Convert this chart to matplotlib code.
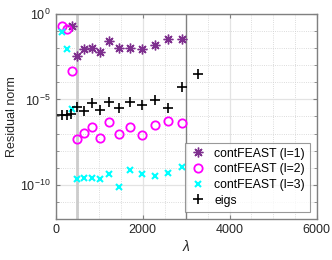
import matplotlib
matplotlib.use("Agg")
import matplotlib.pyplot as plt
from matplotlib.ticker import LogLocator, MultipleLocator, NullFormatter

plt.rcParams['font.family'] = ['Liberation Sans', 'DejaVu Sans']
plt.rcParams['mathtext.fontset'] = 'custom'
plt.rcParams['mathtext.rm'] = 'Liberation Sans'
plt.rcParams['mathtext.it'] = 'Liberation Sans:italic'

lam_l1 = [372, 497, 658, 827, 1018, 1225, 1460, 1715, 1988, 2270, 2590, 2905]
res_l1 = [2.1e-1, 3.6e-3, 8.9e-3, 1.07e-2, 5.8e-3, 2.75e-2, 1.02e-2, 1.02e-2,
          9.3e-3, 1.55e-2, 3.5e-2, 3.5e-2]

lam_l2 = [140, 253, 372, 497, 658, 827, 1018, 1225, 1460, 1715, 1988, 2270, 2590, 2905]
res_l2 = [2.1e-1, 1.26e-1, 4.7e-4, 4.9e-8, 1.15e-7, 2.3e-7, 5.6e-8, 5.0e-7,
          9.1e-8, 2.3e-7, 8.7e-8, 3.1e-7, 5.8e-7, 4.4e-7]

lam_l3 = [153, 253, 372, 497, 658, 827, 1018, 1225, 1460, 1715, 1988, 2270, 2590, 2905]
res_l3 = [8.5e-2, 8.5e-3, 2.6e-6, 2.1e-10, 2.6e-10, 2.6e-10, 2.2e-10, 4.4e-10,
          7.9e-11, 6.9e-10, 4.4e-10, 3.4e-10, 5.2e-10, 1.1e-9]

lam_eigs = [145, 253, 360, 497, 658, 827, 1018, 1225, 1460, 1715, 1988, 2270, 2590, 2905, 3280]
res_eigs = [1.23e-6, 1.23e-6, 1.35e-6, 3.8e-6, 2.1e-6, 6.0e-6, 2.45e-6, 6.9e-6,
            3.1e-6, 7.4e-6, 4.4e-6, 9.3e-6, 3.3e-6, 5.6e-5, 3.1e-4]

vlines = [490, 2990]
labels = ['contFEAST (l=1)', 'contFEAST (l=2)', 'contFEAST (l=3)', 'eigs']

fig = plt.figure(figsize=(3.32, 2.6), dpi=100)
ax = fig.add_axes([0.168, 0.158, 0.786, 0.788])

ax.axvline(vlines[0], color='#cccccc', lw=2.0, zorder=1)
ax.axvline(vlines[1], color='#808080', lw=1.0, zorder=1)

ax.semilogy(lam_l1, res_l1, linestyle='none', marker=(8, 2, 0), ms=7, mew=1.0,
            color='#7E2F8E', label=labels[0], zorder=3)
ax.semilogy(lam_l2, res_l2, linestyle='none', marker='o', ms=6, mew=1.3,
            mfc='none', mec='#FF00FF', label=labels[1], zorder=3)
ax.semilogy(lam_l3, res_l3, linestyle='none', marker='x', ms=4, mew=1.5,
            color='#00FFFF', label=labels[2], zorder=3)
ax.semilogy(lam_eigs, res_eigs, linestyle='none', marker='+', ms=6.5, mew=1.2,
            color='black', label=labels[3], zorder=3)

ax.set_xlim(0, 6000)
ax.set_ylim(1e-12, 1)
ax.xaxis.set_major_locator(MultipleLocator(2000))
ax.xaxis.set_minor_locator(MultipleLocator(500))
ax.set_yticks([1e0, 1e-5, 1e-10])
ax.yaxis.set_minor_locator(LogLocator(base=10, subs=(1.0,), numticks=30))
ax.yaxis.set_minor_formatter(NullFormatter())

ax.grid(True, which='major', color='#e3e3e3', lw=0.9, ls='-')
ax.grid(True, which='minor', color='#d0d0d0', lw=0.6, ls=':')
ax.set_axisbelow(True)

for s in ax.spines.values():
    s.set_color('#808080')
    s.set_linewidth(1.0)
ax.tick_params(which='both', direction='in', top=True, right=True,
               colors='#808080', labelcolor='#262626', labelsize=9)
ax.tick_params(which='major', length=3)
ax.tick_params(which='minor', length=2)
ax.tick_params(axis='x', which='minor', length=0)

ax.set_xlabel(r'$\lambda$', fontsize=10, color='#262626', labelpad=2)
ax.set_ylabel('Residual norm', fontsize=9, color='#262626', labelpad=2)

leg = ax.legend(loc='lower right', bbox_to_anchor=(0.974, 0.036), borderaxespad=0,
                fontsize=8.8, frameon=True, fancybox=False, handlelength=1.3,
                handletextpad=0.7, labelspacing=0.3, borderpad=0.4)
leg.get_frame().set_edgecolor('#808080')
leg.get_frame().set_linewidth(0.8)

fig.savefig('out.png', dpi=100)
